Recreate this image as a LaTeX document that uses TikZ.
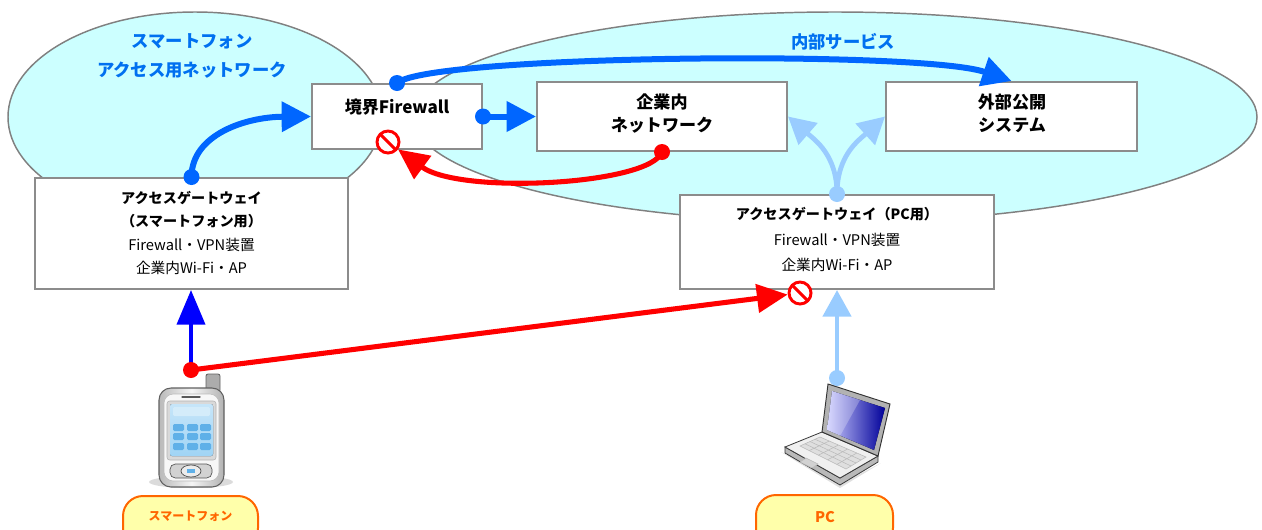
\documentclass[tikz,border=0pt]{standalone}
\usepackage{fontspec}
\newfontfamily\jp{Noto Sans CJK JP}
\newcommand\gwbold{\bfseries\fontsize{10.6}{12}\selectfont}
\usetikzlibrary{arrows.meta,fit,calc}

\definecolor{netfill}{RGB}{204,255,255}
\definecolor{netline}{RGB}{128,128,128}
\definecolor{boxline}{RGB}{140,140,140}
\definecolor{flowblue}{RGB}{0,102,255}
\definecolor{titleblue}{RGB}{0,112,240}
\definecolor{pureblue}{RGB}{0,0,255}
\definecolor{lightflow}{RGB}{153,204,255}
\definecolor{denyred}{RGB}{255,0,0}
\definecolor{pillfill}{RGB}{255,255,170}
\definecolor{pillline}{RGB}{255,102,0}
\definecolor{screenblue}{RGB}{160,212,245}
\definecolor{keyblue}{RGB}{95,176,232}

\tikzset{
  box/.style={draw=boxline, line width=1.5pt, fill=white, inner sep=0pt},
  title/.style={font=\jp\bfseries\fontsize{12.8}{17}\selectfont, align=center, inner sep=0pt},
  nettitle/.style={font=\jp\bfseries\fontsize{13}{21.5}\selectfont, text=titleblue, align=center, inner sep=0pt},
  gwtext/.style={font=\jp\fontsize{11}{17.7}\selectfont, align=center, inner sep=0pt},
  flow/.style={draw=flowblue, line width=4.5pt, -{Triangle[length=22pt,width=22pt]}},
  denyflow/.style={draw=denyred, line width=3.8pt, -{Triangle[length=23pt,width=21pt]}},
  pcflow/.style={draw=lightflow, line width=3.6pt, -{Triangle[length=20pt,width=21pt]}},
  phoneflow/.style={draw=pureblue, line width=3pt, -{Triangle[length=26pt,width=21pt]}},
  nosign/.style={circle, draw=denyred, fill=white, line width=2.2pt, minimum size=16.5pt, inner sep=0pt,
    path picture={\draw[denyred, line width=2.2pt] (path picture bounding box.north west) -- (path picture bounding box.south east);}},
  pill/.style={draw=pillline, fill=pillfill, line width=1.5pt, rounded corners=15pt, inner sep=0pt},
  pilltext/.style={font=\jp\bfseries\fontsize{9}{11}\selectfont, text=pillline, inner sep=0pt},
}

\begin{document}
\begin{tikzpicture}[x=0.75pt, y=-0.75pt]
\useasboundingbox (0,0) rectangle (1262,529);

% network areas
\filldraw[fill=netfill, draw=netline, line width=1.1pt] (195,117) ellipse [x radius=187, y radius=105];
\filldraw[fill=netfill, draw=netline, line width=1.1pt] (835,117) ellipse [x radius=422, y radius=105];
\node[nettitle] (smnet) at (192,56) {スマートフォン\\アクセス用ネットワーク};
\node[nettitle] (innet) at (843,42) {内部サービス};

% boxes
\node[box, fit={(312,84) (482,149)}] (fw) {};
\node[box, fit={(537,82) (787,151)}] (corp) {};
\node[box, fit={(886,82) (1137,151)}] (ext) {};
\node[box, fit={(35,178) (348,289)}] (sgw) {};
\node[box, fit={(680,195) (994,289)}] (pcgw) {};

\node[title] (fwtxt) at (397,107) {境界Firewall};
\node[title] (corptxt) at (662,113.5) {企業内\\ネットワーク};
\node[title] (exttxt) at (1012,113.5) {外部公開\\システム};
\node[gwtext] (sgwtxt) at (191.5,233) {{\gwbold アクセスゲートウェイ}\\{\gwbold （スマートフォン用）}\\Firewall・VPN装置\\企業内Wi-Fi・AP};
\node[gwtext, font=\jp\fontsize{11}{19}\selectfont] (pcgwtxt) at (837,239.5) {{\gwbold アクセスゲートウェイ（PC用）}\\Firewall・VPN装置\\企業内Wi-Fi・AP};

% blocked-access marks and device junctions
\node[nosign] (nofw) at (388,142) {};
\node[nosign] (nopc) at (800,293) {};
\coordinate (phjunc) at (191,370);
\coordinate (pcjunc) at (837,378);

% permitted flows
\draw[flow] (sgw.north) .. controls (191.5,135) and (245,117) .. (fw.west);
\draw[flow] (fw.north) .. controls (430,55) and (920,50) .. (ext.north);
\draw[flow] (fw.east) -- (corp.west);
\fill[flowblue] (sgw.north) circle (6pt);
\fill[flowblue] (fw.north) circle (6pt);
\fill[flowblue] (fw.east) circle (6pt);

\draw[pcflow] (pcgw.north) .. controls (837,155) and (815,140) .. (corp.east);
\draw[pcflow] (pcgw.north) .. controls (837,155) and (859,140) .. (ext.west);
\draw[pcflow] (pcjunc) -- (pcjunc |- pcgw.south);
\fill[lightflow] (pcgw.north) circle (6pt);
\fill[lightflow] (pcjunc) circle (6pt);

\draw[phoneflow] (phjunc) -- (phjunc |- sgw.south);

% denied flows
\draw[denyflow] (corp.south) .. controls (650,185) and (460,195) .. (nofw);
\draw[denyflow] (phjunc) -- (nopc);
\fill[denyred] (corp.south) circle (6pt);
\fill[denyred] (phjunc) circle (6pt);

% smartphone
\fill[black!14] (191,482) ellipse [x radius=42, y radius=6];
\draw[fill=gray!65, draw=gray!75!black, line width=0.6pt, rounded corners=1.5pt] (206,374) rectangle (220,392);
\draw[line width=0.8pt, draw=gray!75!black, left color=gray!55, right color=gray!60, middle color=gray!8, rounded corners=9pt] (159,388) rectangle (224,487);
\draw[fill=gray!6, draw=gray!55, rounded corners=7pt] (164,394) rectangle (219,481);
\draw[gray!70!black, line width=1pt, line cap=round] (182,397) -- (200,397);
\draw[fill=gray!30, draw=gray!60, rounded corners=2pt] (167,401) rectangle (216,460);
\fill[top color=screenblue!60, bottom color=screenblue, rounded corners=1.5pt] (170,404) rectangle (213,456);
\fill[screenblue!45, rounded corners=1pt] (173,407) rectangle (210,416);
\foreach \kx in {173,187,200} {
  \foreach \ky in {424,433,443} {
    \fill[keyblue, rounded corners=1pt] (\kx,\ky) rectangle ++(11,7);
  }
}
\draw[fill=gray!35, draw=gray!65!black, line width=0.5pt, rounded corners=4pt] (170,464) rectangle (212,478);
\draw[fill=gray!15, draw=gray!60!black, line width=0.5pt] (191,471) ellipse [x radius=10, y radius=6];
\fill[keyblue] (187,469) rectangle (195,473);

% laptop
\fill[black!12] (781,452) -- (840,488) -- (881,463) -- (842,483) -- cycle;
\draw[fill=gray!55, draw=gray!45!black, line width=0.6pt] (785,447) -- (840,478) -- (878,456) -- (878,462) -- (840,485) -- (785,453) -- cycle;
\draw[fill=gray!12, draw=gray!45!black, line width=0.6pt] (822,432) -- (878,456) -- (840,478) -- (785,447) -- cycle;
\draw[fill=gray!25, draw=gray!55, line width=0.4pt] (820,437) -- (866,457) -- (846,469) -- (800,446) -- cycle;
\foreach \t in {0.25,0.5,0.75} {
  \draw[gray!55, line width=0.4pt] ($(820,437)!\t!(800,446)$) -- ($(866,457)!\t!(846,469)$);
}
\foreach \t in {0.2,0.4,0.6,0.8} {
  \draw[gray!55, line width=0.4pt] ($(820,437)!\t!(866,457)$) -- ($(800,446)!\t!(846,469)$);
}
\draw[fill=gray!35, draw=gray!55, line width=0.4pt] (806,458) -- (818,464) -- (812,468) -- (800,462) -- cycle;
\draw[fill=gray!60, draw=gray!40!black, line width=0.7pt] (828,384) -- (890,404) -- (878,456) -- (822,432) -- cycle;
\fill[left color=blue!20!white, right color=blue!60!black] (832,391) -- (885,408) -- (874,450) -- (827,430) -- cycle;
\fill[white, opacity=0.25] (832,391) -- (860,400) -- (840,436) -- (827,430) -- cycle;

% device labels
\node[pill, fit={(123,496) (258,548)}] (smpill) {};
\node[pilltext] (smname) at (190.5,516) {スマートフォン};
\node[pill, fit={(756,495) (893,548)}] (pcpill) {};
\node[pilltext, font=\jp\bfseries\fontsize{11}{13}\selectfont] (pcname) at (825,517) {PC};
\end{tikzpicture}
\end{document}
